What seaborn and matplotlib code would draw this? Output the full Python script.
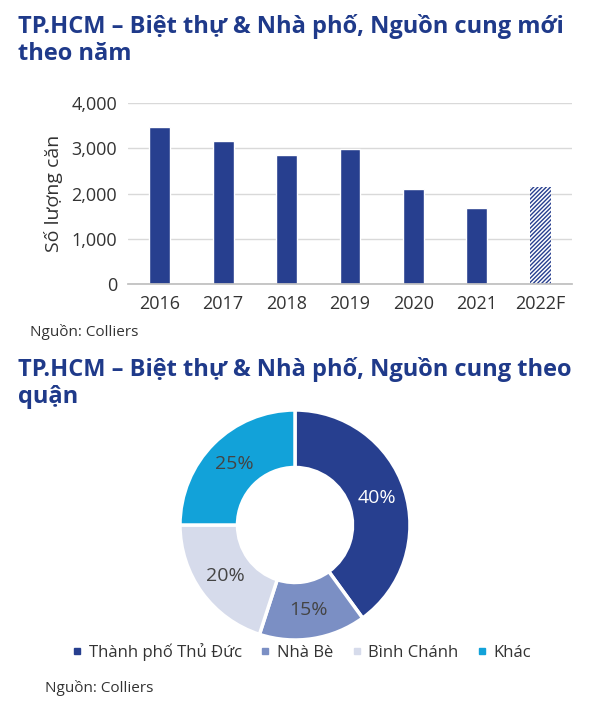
import matplotlib
matplotlib.use("Agg")
import matplotlib.pyplot as plt
import seaborn as sns
import pandas as pd
import numpy as np

sns.set_theme(style="white")
plt.rcParams['font.family'] = ['Open Sans', 'DejaVu Sans']

years = ["2016", "2017", "2018", "2019", "2020", "2021", "2022F"]
supply = [3470, 3150, 2860, 2980, 2090, 1670, 2150]
districts = ["Thành phố Thủ Đức", "Nhà Bè", "Bình Chánh", "Khác"]
shares = [40, 15, 20, 25]
pie_colors = ["#273f8f", "#7b8fc4", "#d6dbeb", "#12a2d9"]
blue = "#273f8f"
title_c = "#1f3a8a"

W, H = 596, 705
fig = plt.figure(figsize=(W/100, H/100), dpi=100)

def fx(px): return px / W
def fy(py): return 1 - py / H

fig.text(fx(18), fy(40), "TP.HCM – Biệt thự & Nhà phố, Nguồn cung mới\ntheo năm",
         fontsize=17, fontweight="bold", color=title_c, va="center", linespacing=1.2)

plt.rcParams['hatch.color'] = blue
ax = fig.add_axes([fx(128), fy(284), fx(572-128), (284-103)/H])
df = pd.DataFrame({"year": years, "supply": supply})
sns.barplot(data=df, x="year", y="supply", color=blue, width=0.33, ax=ax, saturation=1)
last = ax.patches[-1]
last.set_facecolor("white")
last.set_edgecolor(blue)
last.set_hatch("////////")
last.set_linewidth(0)
ax.set_ylim(0, 4000)
ax.set_yticks([0, 1000, 2000, 3000, 4000])
ax.set_yticklabels(["0", "1,000", "2,000", "3,000", "4,000"])
ax.yaxis.grid(True, color="#d9d9d9", linewidth=1)
ax.set_axisbelow(True)
for s in ["top", "right", "left"]:
    ax.spines[s].set_visible(False)
ax.spines["bottom"].set_color("#bfbfbf")
ax.tick_params(axis="both", labelsize=13, colors="#333333", length=0, pad=8)
ax.set_xlabel("")
ax.set_ylabel("Số lượng căn", fontsize=14, color="#333333", labelpad=6)

fig.text(fx(30), fy(332), "Nguồn: Colliers", fontsize=11, color="#333333", va="center")

fig.text(fx(18), fy(383), "TP.HCM – Biệt thự & Nhà phố, Nguồn cung theo\nquận",
         fontsize=17, fontweight="bold", color=title_c, va="center", linespacing=1.2)

r = 115
pax = fig.add_axes([fx(295 - r), fy(525 + r), fx(2*r), 2*r/H])
wedges, _ = pax.pie(shares, colors=pie_colors, startangle=90, counterclock=False,
                    wedgeprops=dict(width=0.5, edgecolor="white", linewidth=2.5))
ang = 90
for i, s in enumerate(shares):
    mid = ang - s * 3.6 / 2
    ang -= s * 3.6
    x, y = 0.75*np.cos(np.radians(mid)), 0.75*np.sin(np.radians(mid))
    pax.text(x, y, f"{s}%", ha="center", va="center", fontsize=14,
             color="white" if i == 0 else "#444444")
pax.set_xlim(-1, 1)
pax.set_ylim(-1, 1)
pax.set_aspect("equal")

handles = [plt.Line2D([], [], marker="s", linestyle="", color=c, markersize=5) for c in pie_colors]
fig.legend(handles, districts, loc="center", bbox_to_anchor=(fx(300), fy(652)), ncol=4,
           frameon=False, fontsize=12, handletextpad=0.2, columnspacing=0.9,
           handlelength=1.0, labelcolor="#333333")

fig.text(fx(45), fy(688), "Nguồn: Colliers", fontsize=11, color="#333333", va="center")

fig.savefig("out.png", dpi=100)
